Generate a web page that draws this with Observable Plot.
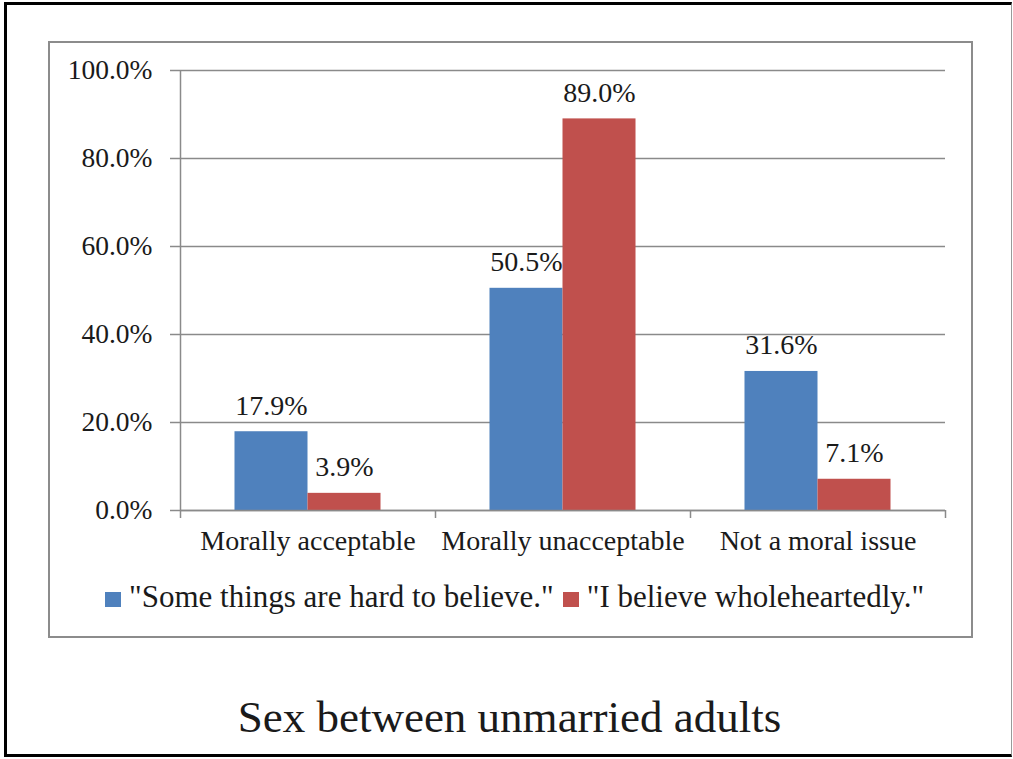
<!DOCTYPE html>
<html>
<head>
<meta charset="utf-8">
<script src="https://cdn.jsdelivr.net/npm/d3@7"></script>
<script src="https://cdn.jsdelivr.net/npm/@observablehq/plot@0.6"></script>
<style>
  body { margin: 0; background: #fff; }
  #page { position: relative; width: 1013px; height: 759px; overflow: hidden; font-family: "Liberation Serif", serif; color: #1a1a1a; background: #fff; }
  #outer { position: absolute; left: 4px; top: 2px; width: 1004px; height: 749px; border: 3px solid #000; border-right: 1px solid #9a9a9a; }
  #frame { position: absolute; left: 48px; top: 41px; width: 921px; height: 593px; border: 2px solid #8c8c8c; }
  #chart { position: absolute; left: 0; top: 0; }
  #legend { position: absolute; left: 105px; top: 583px; display: flex; align-items: center; font-size: 31px; line-height: 28px; white-space: nowrap; }
  #legend .sw { display: inline-block; width: 16px; height: 15px; margin-right: 8px; position: relative; top: 2px; }
  #legend .item { display: flex; align-items: center; margin-right: 9px; }
  #title { position: absolute; left: 3px; width: 1013px; top: 695px; font-size: 45px; line-height: 45px; text-align: center; }
</style>
</head>
<body>
<div id="page">
  <div id="outer"></div>
  <div id="frame"></div>
  <div id="chart"></div>
  <div id="legend"></div>
  <div id="title"></div>
</div>
<script>
// ---- data ----
const categories = ["Morally acceptable", "Morally unacceptable", "Not a moral issue"];
const seriesNames = ["\"Some things are hard to believe.\"", "\"I believe wholeheartedly.\""];
const hardToBelieve = [17.9, 50.5, 31.6];
const wholeheartedly = [3.9, 89.0, 7.1];
const yTicks = [0, 20, 40, 60, 80, 100];
const titleText = "Sex between unmarried adults";

// ---- styles ----
const colors = ["#4F81BD", "#C0504D"];
const gridColor = "#8a8a8a";
const textColor = "#1a1a1a";
const gap = 0.2137; // outer gap of each category group (fraction of category width)
const barW = (1 - 2 * gap) / 2;

const seriesValues = [hardToBelieve, wholeheartedly];
const rows = [];
categories.forEach((c, i) => {
  seriesValues.forEach((vals, s) => {
    rows.push({cat: c, ci: i, s, series: seriesNames[s], value: vals[i]});
  });
});
const x1 = d => d.ci + gap + d.s * barW;
const x2 = d => d.ci + gap + (d.s + 1) * barW;
const xc = d => d.ci + gap + (d.s + 0.5) * barW;
const fmt = v => v.toFixed(1) + "%";

const plot = Plot.plot({
  width: 1013,
  height: 570,
  marginLeft: 180,
  marginRight: 68,
  marginTop: 70,
  marginBottom: 60,
  style: {background: "transparent", fontFamily: "'Liberation Serif', serif", color: textColor, overflow: "visible"},
  x: {domain: [0, categories.length], axis: null},
  y: {domain: [0, 100], axis: null},
  marks: [
    Plot.ruleY(yTicks, {stroke: gridColor, strokeWidth: 1.5}),
    Plot.ruleX([0], {stroke: gridColor, strokeWidth: 1.5}),
    Plot.axisY({ticks: yTicks, tickSize: 10, tickPadding: 18, tickFormat: fmt, fontSize: 27.5,
      stroke: gridColor, strokeWidth: 1.5, fill: textColor, label: null}),
    Plot.rectY(rows, {x1, x2, y: "value", fill: d => colors[d.s]}),
    Plot.ruleY([0], {stroke: gridColor, strokeWidth: 1.5}),
    Plot.axisX({ticks: d3.range(categories.length + 1), tickSize: 8, tickFormat: () => "",
      stroke: gridColor, strokeWidth: 1.5, label: null}),
    Plot.axisX({ticks: categories.map((c, i) => i + 0.5), tickSize: 0, tickPadding: 20,
      tickFormat: v => categories[Math.floor(v)], fontSize: 28, fill: textColor, label: null}),
    Plot.text(rows, {x: xc, y: "value", text: d => fmt(d.value), lineAnchor: "bottom", dy: -17,
      fontSize: 28, fill: textColor})
  ]
});
document.getElementById("chart").appendChild(plot);

// legend
const legend = document.getElementById("legend");
seriesNames.forEach((name, s) => {
  const item = document.createElement("span");
  item.className = "item";
  const sw = document.createElement("span");
  sw.className = "sw";
  sw.style.background = colors[s];
  const lab = document.createElement("span");
  lab.textContent = name;
  item.appendChild(sw);
  item.appendChild(lab);
  legend.appendChild(item);
});
document.getElementById("title").textContent = titleText;
</script>
</body>
</html>
